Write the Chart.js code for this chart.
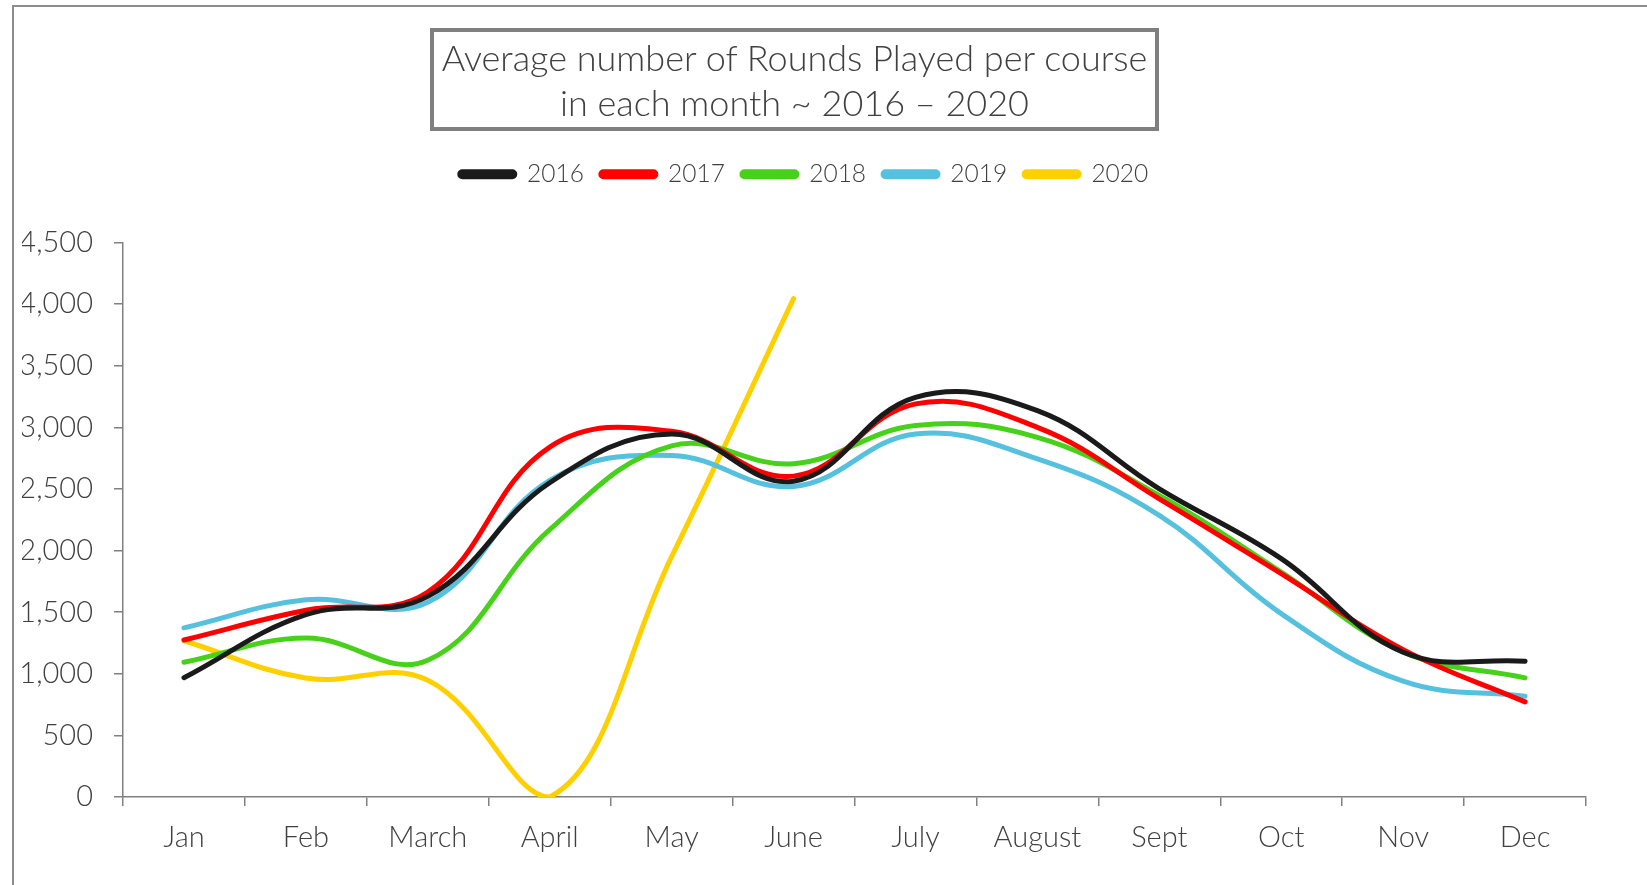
<!DOCTYPE html>
<html>
<head>
<meta charset="utf-8">
<script src="https://cdn.jsdelivr.net/npm/chart.js@4"></script>
<style>
  html, body { margin: 0; padding: 0; background: #fff; }
  #wrap { position: relative; width: 1647px; height: 885px; overflow: hidden; }
  #frame {
    position: absolute; left: 12px; top: 5px; width: 1640px; height: 890px;
    border-top: 2px solid #8c8c8c; border-left: 2px solid #8c8c8c;
  }
  #title {
    position: absolute; left: 430px; top: 28px; width: 721px; height: 95px;
    border: 4px solid #7f7f7f; box-sizing: content-box;
    font-family: Lato, "Open Sans", sans-serif; font-weight: 300;
    font-size: 36px; line-height: 45px; color: #404040;
    text-align: center;
    display: flex; align-items: center; justify-content: center;
  }
  canvas { position: absolute; left: 0; top: 0; }
</style>
</head>
<body>
<div id="wrap">
  <div id="frame"></div>
  <canvas id="chart" width="1647" height="885"></canvas>
  <div id="title">Average number of Rounds Played per course<br>in each month ~ 2016 – 2020</div>
</div>
<script>
const months = ["Jan", "Feb", "March", "April", "May", "June", "July", "August", "Sept", "Oct", "Nov", "Dec"];

const rounds2016 = [968, 1480, 1628, 2550, 2946, 2563, 3243, 3135, 2501, 1934, 1175, 1102];
const rounds2017 = [1274, 1515, 1664, 2840, 2968, 2604, 3190, 3000, 2420, 1812, 1196, 772];
const rounds2018 = [1093, 1290, 1110, 2170, 2850, 2705, 3014, 2919, 2447, 1826, 1177, 967];
const rounds2019 = [1373, 1600, 1580, 2570, 2771, 2520, 2946, 2744, 2285, 1488, 940, 818];
const rounds2020 = [1268, 965, 948, 0, 1950, 4045];

const yTicks = [0, 500, 1000, 1500, 2000, 2500, 3000, 3500, 4000, 4500];

const fontFamily = "Lato, 'Open Sans', sans-serif";
const textColor = "#404040";
const axisColor = "#808080";

function serie(label, data, color) {
  return {
    label: label,
    data: data,
    borderColor: color,
    backgroundColor: color,
    borderWidth: 5,
    borderCapStyle: "round",
    borderJoinStyle: "round",
    pointRadius: 0,
    pointHoverRadius: 0,
    tension: 0.4,
    fill: false
  };
}

// espaco extra abaixo da legenda
const legendGap = {
  id: "legendGap",
  beforeInit(chart) {
    const fitOrig = chart.legend.fit;
    chart.legend.fit = function () {
      fitOrig.bind(chart.legend)();
      this.height += 46;
    };
  }
};

new Chart(document.getElementById("chart"), {
  type: "line",
  data: {
    labels: months,
    datasets: [
      serie("2016", rounds2016, "#1a1a1a"),
      serie("2017", rounds2017, "#ff0000"),
      serie("2018", rounds2018, "#47d11a"),
      serie("2019", rounds2019, "#56c0df"),
      serie("2020", rounds2020, "#ffd000")
    ]
  },
  options: {
    responsive: false,
    animation: false,
    layout: { padding: { left: 22, right: 61, top: 145, bottom: 0 } },
    plugins: {
      legend: {
        display: true,
        position: "top",
        labels: {
          boxWidth: 55,
          boxHeight: 5,
          useBorderRadius: true,
          borderRadius: 2.5,
          padding: 17,
          color: textColor,
          font: { family: fontFamily, size: 24.5, weight: 300 }
        }
      },
      tooltip: { enabled: false }
    },
    scales: {
      x: {
        offset: true,
        grid: { offset: true, drawOnChartArea: false, drawTicks: true, tickLength: 9, color: axisColor, lineWidth: 1.5 },
        border: { display: true, color: axisColor, width: 1.5 },
        ticks: { color: textColor, padding: 14, font: { family: fontFamily, size: 29, weight: 300 } },
        afterFit(scale) { scale.height = 88; }
      },
      y: {
        min: 0,
        max: 4500,
        afterBuildTicks(scale) { scale.ticks = yTicks.map(v => ({ value: v })); },
        grid: { drawOnChartArea: false, drawTicks: true, tickLength: 9, color: axisColor, lineWidth: 1.5 },
        border: { display: true, color: axisColor, width: 1.5 },
        ticks: {
          color: textColor, padding: 21,
          font: { family: fontFamily, size: 29, weight: 300 },
          callback: v => v.toLocaleString("en-US")
        },
        afterFit(scale) { scale.width = 101; }
      }
    }
  },
  plugins: [legendGap]
});
</script>
</body>
</html>
